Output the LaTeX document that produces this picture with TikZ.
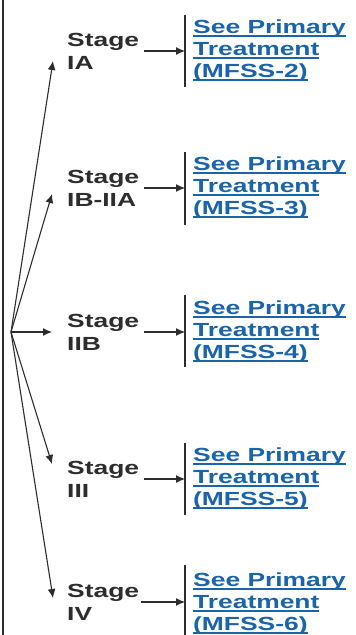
\documentclass[tikz,border=0pt]{standalone}
\usepackage{fontspec}
\usetikzlibrary{calc,arrows.meta}
\newfontfamily\flowfont[FakeStretch=1.39]{Liberation Sans}
\definecolor{stagegray}{RGB}{45,45,45}
\definecolor{linkblue}{RGB}{25,100,170}
\newcommand{\lnk}[1]{\setbox0\hbox{#1}\rlap{\rule[-2.6pt]{\wd0}{1.2pt}}\box0}

\begin{document}
\begin{tikzpicture}[x=1pt,y=-1pt,>={Latex[length=9pt,width=8pt]},
  stage/.style={anchor=west,inner sep=0pt,align=left,text=stagegray,
    font=\flowfont\bfseries\fontsize{19}{23}\selectfont},
  link/.style={anchor=west,inner sep=0pt,align=left,text=linkblue,
    font=\flowfont\bfseries\fontsize{19}{22}\selectfont},
  flow/.style={->,line width=1.1pt,draw=stagegray},
  bar/.style={line width=1.6pt,draw=stagegray}]
\useasboundingbox (0,0) rectangle (356,635);

% left rule and branch point
\draw[line width=1.4pt,stagegray] (3,0) -- (3,635);
\coordinate (root) at (11,332);

% stages
\node[stage] (ia)  at (67,51)  {Stage\\IA};
\node[stage] (ib)  at (67,188) {Stage\\IB-IIA};
\node[stage] (iib) at (67,332) {Stage\\IIB};
\node[stage] (iii) at (67,479) {Stage\\III};
\node[stage] (iv)  at (67,602) {Stage\\IV};

\draw[flow] (root) -- ($(ia.west)+(-14,10)$);
\draw[flow] (root) -- ($(ib.west)+(-15,6)$);
\draw[flow] (root) -- ($(iib.west)+(-15,0)$);
\draw[flow] (root) -- ($(iii.west)+(-15,-15)$);
\draw[flow] (root) -- ($(iv.west)+(-14,-4)$);

% bars
\coordinate (bar1) at (185,51);
\coordinate (bar2) at (185,188);
\coordinate (bar3) at (185,332);
\coordinate (bar4) at (185,479);
\coordinate (bar5) at (185,602);
\draw[bar] ($(bar1)+(0,-36)$) -- ($(bar1)+(0,36)$);
\draw[bar] ($(bar2)+(0,-36)$) -- ($(bar2)+(0,37)$);
\draw[bar] ($(bar3)+(0,-37)$) -- ($(bar3)+(0,35)$);
\draw[bar] ($(bar4)+(0,-36)$) -- ($(bar4)+(0,36)$);
\draw[bar] ($(bar5)+(0,-37)$) -- (185,635);

\draw[flow] ($(ia.east)+(5,0)$)  -- (bar1);
\draw[flow] ($(ib.east)+(5,0)$)  -- (bar2);
\draw[flow] ($(iib.east)+(5,0)$) -- (bar3);
\draw[flow] ($(iii.east)+(5,0)$) -- (bar4);
\draw[flow] ($(iv.east)+(2,0)$)  -- (bar5);

% links
\node[link] (l1) at (193,51)  {\lnk{See Primary}\\\lnk{Treatment}\\\lnk{(MFSS-2)}};
\node[link] (l2) at (193,188) {\lnk{See Primary}\\\lnk{Treatment}\\\lnk{(MFSS-3)}};
\node[link] (l3) at (193,332) {\lnk{See Primary}\\\lnk{Treatment}\\\lnk{(MFSS-4)}};
\node[link] (l4) at (193,479) {\lnk{See Primary}\\\lnk{Treatment}\\\lnk{(MFSS-5)}};
\node[link] (l5) at (193,604) {\lnk{See Primary}\\\lnk{Treatment}\\\lnk{(MFSS-6)}};
\end{tikzpicture}
\end{document}
